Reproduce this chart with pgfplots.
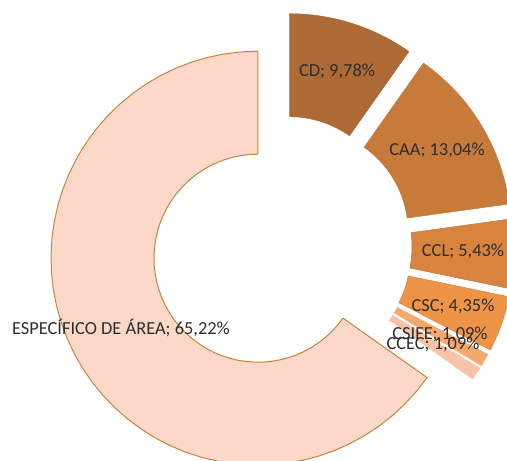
\documentclass[border=0pt]{standalone}
\usepackage{pgfplots}
\pgfplotsset{compat=1.18}
\usepackage{fontspec}
\setmainfont{Carlito}
\definecolor{cCD}{HTML}{AD6A35}
\definecolor{cCAA}{HTML}{C77B3B}
\definecolor{cCCL}{HTML}{D8843F}
\definecolor{cCSC}{HTML}{EE9446}
\definecolor{cCSIFE}{HTML}{F3A86F}
\definecolor{cCCEC}{HTML}{F8C3A6}
\definecolor{cESP}{HTML}{FBD8C8}
\definecolor{cESPb}{HTML}{C8843F}
\definecolor{lab}{HTML}{2E2E2E}
\tikzset{lbl/.style={font=\fontsize{18.4bp}{20bp}\selectfont, text=lab, inner sep=0pt}}
% #1 cumulative start (%), #2 cumulative end (%), #3 style
\newcommand{\slice}[3]{%
 \addplot[#3, domain=0:2.02, samples=102, variable=\t, line join=round]
 ({281.5 + 26.5*cos(90-1.8*(#1+#2)) + (\t<1.01 ? 207 : 104)*cos(90-3.6*#1-3.6*(#2-#1)*(\t<1.01 ? min(\t,1) : 1-max(min(\t-1.02,1),0)))},
  {215 + 26.5*sin(90-1.8*(#1+#2)) + (\t<1.01 ? 207 : 104)*sin(90-3.6*#1-3.6*(#2-#1)*(\t<1.01 ? min(\t,1) : 1-max(min(\t-1.02,1),0)))}) -- cycle;
}
\begin{document}
\begin{tikzpicture}
\useasboundingbox (0,0) rectangle (507bp,461bp);
\clip (0,0) rectangle (507bp,461bp);
\begin{axis}[
  at={(0,0)}, anchor=south west,
  width=507bp, height=461bp, scale only axis,
  xmin=0, xmax=507, ymin=0, ymax=461,
  axis lines=none, ticks=none,
  clip=true,
]
% slices: CD 9.78, CAA 13.04, CCL 5.43, CSC 4.35, CSIFE 1.09, CCEC 1.09, ESPECIFICO 65.22
\slice{34.78}{100}{fill=cESP, draw=cESPb, line width=1bp}
\slice{0}{9.78}{fill=cCD, draw=cCD, line width=0.5bp}
\slice{9.78}{22.82}{fill=cCAA, draw=cCAA, line width=0.5bp}
\slice{22.82}{28.25}{fill=cCCL, draw=cCCL!90!black, line width=0.5bp}
\slice{28.25}{32.60}{fill=cCSC, draw=cCSC!90!black, line width=0.5bp}
\slice{32.60}{33.69}{fill=cCSIFE, draw=white, densely dotted, line width=0.8bp}
\slice{33.69}{34.78}{fill=cCCEC, draw=white, densely dotted, line width=0.8bp}
\node[lbl] at (axis cs:337,390) {CD; 9,78\%};
\node[lbl] at (axis cs:437,311) {CAA; 13,04\%};
\node[lbl] at (axis cs:463,210) {CCL; 5,43\%};
\node[lbl] at (axis cs:453,155) {CSC; 4,35\%};
\node[lbl] at (axis cs:440,127) {CSIFE; 1,09\%};
\node[lbl] at (axis cs:433,117) {CCEC; 1,09\%};
\node[lbl] at (axis cs:121,133) {ESPECÍFICO DE ÁREA; 65,22\%};
\end{axis}
\end{tikzpicture}
\end{document}
